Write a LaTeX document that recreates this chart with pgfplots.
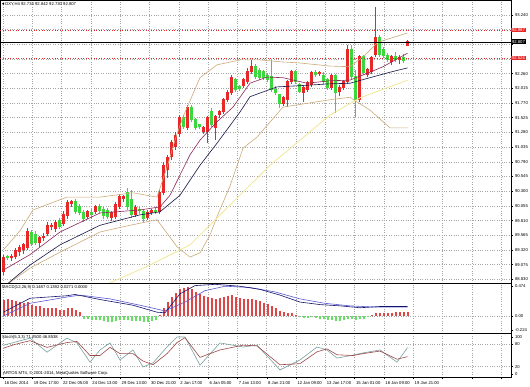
\documentclass[border=0pt]{standalone}
\usepackage{fontspec}
\setmainfont{Liberation Sans}
\newfontfamily\symfont{DejaVu Sans}
\usepackage{pgfplots}
\usepackage{pgfplotstable}
\pgfplotsset{compat=1.18}
\definecolor{upc}{RGB}{232,40,40}
\definecolor{dnc}{RGB}{60,215,60}
\definecolor{bb}{RGB}{205,170,120}
\definecolor{maf}{RGB}{140,40,90}
\definecolor{mas}{RGB}{20,20,70}
\definecolor{may}{RGB}{240,232,150}
\definecolor{gridc}{RGB}{165,165,165}
\definecolor{macdn}{RGB}{20,20,110}
\definecolor{macds}{RGB}{90,90,210}
\definecolor{stk}{RGB}{120,160,160}
\definecolor{std}{RGB}{160,70,70}
\definecolor{histred}{RGB}{225,70,70}
\definecolor{histgreen}{RGB}{100,225,100}
\newcommand{\tinyf}{\fontsize{4.2}{5}\selectfont}

\pgfplotstableread{
x o h l c
3.5 89.05 89.32 89.00 89.28
11.5 89.28 89.34 89.23 89.29
15.5 89.29 89.44 89.26 89.39
19.5 89.37 89.49 89.31 89.44
23.5 89.41 89.52 89.34 89.49
27.5 89.44 89.77 89.41 89.70
39.5 89.52 89.63 89.46 89.60
43.5 89.60 89.68 89.55 89.63
47.5 89.67 89.86 89.63 89.80
51.5 89.78 89.85 89.73 89.81
55.5 89.75 89.90 89.70 89.85
63.5 89.83 90.04 89.80 89.99
67.5 89.96 90.22 89.91 90.17
71.5 90.16 90.22 90.11 90.19
87.5 89.95 90.06 89.91 90.03
95.5 90.03 90.14 89.99 90.11
111.5 89.93 90.04 89.88 90.01
115.5 89.94 90.19 89.91 90.14
119.5 90.11 90.32 90.08 90.27
123.5 90.24 90.30 90.19 90.27
135.5 89.98 90.14 89.94 90.09
147.5 89.93 90.06 89.90 90.01
151.5 90.01 90.08 89.98 90.04
159.5 90.03 90.39 89.99 90.34
163.5 90.34 90.84 90.30 90.78
167.5 90.71 90.96 90.58 90.92
171.5 90.92 91.20 90.88 91.15
175.5 91.09 91.33 91.04 91.28
179.5 91.30 91.61 91.25 91.56
187.5 91.40 91.77 91.37 91.73
203.5 91.33 91.43 91.30 91.40
207.5 91.33 91.59 91.15 91.56
215.5 91.40 91.61 91.20 91.58
219.5 91.61 91.69 91.56 91.66
223.5 91.66 91.89 91.63 91.86
227.5 91.86 92.02 91.82 91.97
231.5 91.97 92.26 91.94 92.22
243.5 92.08 92.22 92.05 92.18
247.5 92.15 92.38 92.12 92.31
251.5 92.31 92.51 92.28 92.40
283.5 91.79 91.92 91.76 91.89
287.5 91.86 92.18 91.74 92.15
291.5 92.15 92.35 92.12 92.31
303.5 91.97 92.08 91.82 92.05
307.5 92.02 92.17 91.99 92.13
311.5 92.10 92.33 92.07 92.30
319.5 92.28 92.33 92.25 92.30
331.5 92.05 92.28 92.02 92.25
339.5 91.99 92.10 91.92 92.05
343.5 92.05 92.18 92.02 92.15
347.5 92.15 92.75 92.12 92.67
359.5 91.86 92.59 91.82 92.56
367.5 92.26 92.38 92.23 92.35
371.5 92.31 92.57 92.28 92.54
375.5 92.59 93.38 92.56 92.87
391.5 92.48 92.59 92.43 92.56
399.5 92.51 92.59 92.44 92.54
407.5 92.734 92.842 92.730 92.807
}\uptab

\pgfplotstableread{
x o h l c
7.5 89.29 89.32 89.24 89.28
31.5 89.68 89.73 89.47 89.50
35.5 89.65 89.72 89.49 89.52
59.5 89.88 89.93 89.75 89.78
75.5 90.19 90.24 89.99 90.03
79.5 90.11 90.16 89.98 90.01
83.5 90.01 90.06 89.86 89.91
91.5 90.01 90.08 89.91 89.98
99.5 90.11 90.16 90.01 90.04
103.5 90.06 90.11 89.91 89.96
107.5 90.04 90.09 89.91 89.94
127.5 90.34 90.42 90.06 90.11
131.5 90.22 90.39 89.93 89.98
139.5 90.06 90.11 89.99 90.04
143.5 90.03 90.08 89.86 89.91
155.5 90.04 90.09 89.99 90.03
183.5 91.56 91.61 91.38 91.41
191.5 91.73 91.77 91.50 91.53
195.5 91.53 91.56 91.37 91.40
199.5 91.45 91.46 91.38 91.41
211.5 91.66 91.73 91.42 91.45
235.5 92.18 92.22 91.99 92.02
239.5 92.07 92.10 92.00 92.04
255.5 92.40 92.44 92.20 92.23
259.5 92.33 92.38 92.18 92.22
263.5 92.31 92.35 92.18 92.22
267.5 92.26 92.30 92.15 92.18
271.5 92.23 92.51 91.99 92.02
275.5 92.02 92.08 91.94 91.97
279.5 91.94 91.95 91.73 91.79
295.5 92.31 92.35 92.12 92.15
299.5 92.10 92.13 91.97 91.99
315.5 92.30 92.35 92.23 92.26
323.5 92.26 92.31 92.12 92.15
327.5 92.18 92.22 92.02 92.05
335.5 92.25 92.28 91.64 91.97
351.5 92.67 92.75 92.20 92.23
355.5 92.23 92.35 91.58 91.86
363.5 92.56 92.59 92.26 92.30
379.5 92.87 92.92 92.56 92.59
383.5 92.67 92.72 92.54 92.58
387.5 92.58 92.62 92.48 92.51
395.5 92.56 92.64 92.48 92.51
403.5 92.54 92.61 92.46 92.49
}\dntab

\pgfplotstableread{
x v
3.5 0.26
7.5 0.27
11.5 0.25
15.5 0.24
19.5 0.22
23.5 0.20
27.5 0.22
31.5 0.18
35.5 0.16
39.5 0.15
43.5 0.13
47.5 0.13
51.5 0.12
55.5 0.12
59.5 0.10
63.5 0.10
67.5 0.12
71.5 0.12
75.5 0.09
79.5 0.07
159.5 0.02
163.5 0.12
167.5 0.22
171.5 0.30
175.5 0.36
179.5 0.42
183.5 0.44
187.5 0.45
191.5 0.42
195.5 0.38
199.5 0.34
203.5 0.32
207.5 0.30
211.5 0.28
215.5 0.27
219.5 0.28
223.5 0.30
227.5 0.32
231.5 0.33
235.5 0.30
239.5 0.28
243.5 0.27
247.5 0.27
251.5 0.27
255.5 0.25
259.5 0.23
263.5 0.21
267.5 0.19
271.5 0.16
275.5 0.12
279.5 0.08
283.5 0.06
287.5 0.05
291.5 0.04
295.5 0.02
371.5 0.01
375.5 0.04
379.5 0.05
383.5 0.05
387.5 0.05
391.5 0.05
395.5 0.06
399.5 0.06
403.5 0.06
407.5 0.07
}\histpos

\pgfplotstableread{
x v
83.5 -0.04
87.5 -0.05
91.5 -0.06
95.5 -0.06
99.5 -0.07
103.5 -0.08
107.5 -0.09
111.5 -0.09
115.5 -0.08
119.5 -0.07
123.5 -0.06
127.5 -0.07
131.5 -0.08
135.5 -0.08
139.5 -0.08
143.5 -0.09
147.5 -0.09
151.5 -0.08
155.5 -0.07
299.5 -0.02
303.5 -0.03
307.5 -0.03
311.5 -0.02
315.5 -0.03
319.5 -0.04
323.5 -0.05
327.5 -0.06
331.5 -0.06
335.5 -0.08
339.5 -0.08
343.5 -0.07
347.5 -0.04
351.5 -0.05
355.5 -0.07
359.5 -0.05
363.5 -0.04
367.5 -0.02
}\histneg

\pgfplotsset{
  chart/.style={
    scale only axis, width=511pt, xmin=0, xmax=511,
    anchor=north west,
    axis background/.style={fill=white},
    axis line style={black, line width=0.6pt},
    xtick={3,32.3,61.6,90.9,120.2,149.5,178.8,208.1,237.4,266.7,296,325.3,354.6,383.9,413.2,442.5,471.8,501.1},
    xticklabels={},
    xmajorgrids, ymajorgrids,
    major grid style={gridc, dotted, line width=0.45pt},
    tick style={black, line width=0.4pt},
    major tick length=2pt,
    tick align=outside,
    xtick pos=bottom,
    ytick pos=right, yticklabel pos=right,
    tick label style={font=\tinyf},
    yticklabel style={xshift=-1.5pt},
    clip mode=individual,
  }
}

\begin{document}
\begin{tikzpicture}
\path[use as bounding box] (0pt,0pt) rectangle (530pt,-386pt);

% ---------------- main price panel ----------------
\begin{axis}[chart, at={(0pt,0pt)}, height=283pt,
  ymin=88.867, ymax=93.489,
  xtick style={draw=none},
  ytick={93.247,93.007,92.767,92.527,92.287,92.047,91.807,91.567,91.327,91.086,90.846,90.606,90.366,90.126,89.886,89.646,89.406,89.166,88.926},
  yticklabels={93.240,,,,92.260,92.015,91.770,91.525,91.280,91.035,90.790,90.545,90.300,90.055,89.810,89.565,89.320,89.075,88.830}]

% candles: wicks and bodies
\addplot[draw=none, mark=none, forget plot, error bars/.cd, y dir=plus, y explicit, error mark=none,
  error bar style={draw=upc, line width=1.1pt}]
  table[x=x, y=l, y error plus expr=\thisrow{h}-\thisrow{l}] {\uptab};
\addplot[draw=none, mark=none, forget plot, error bars/.cd, y dir=plus, y explicit, error mark=none,
  error bar style={draw=upc, line width=2.8pt}]
  table[x=x, y=o, y error plus expr=\thisrow{c}-\thisrow{o}+0.012] {\uptab};
\addplot[draw=none, mark=none, forget plot, error bars/.cd, y dir=plus, y explicit, error mark=none,
  error bar style={draw=dnc, line width=1.1pt}]
  table[x=x, y=l, y error plus expr=\thisrow{h}-\thisrow{l}] {\dntab};
\addplot[draw=none, mark=none, forget plot, error bars/.cd, y dir=plus, y explicit, error mark=none,
  error bar style={draw=dnc, line width=2.8pt}]
  table[x=x, y=c, y error plus expr=\thisrow{o}-\thisrow{c}+0.012] {\dntab};

% Bollinger bands
\addplot[bb, line width=0.6pt] coordinates {(3.5,89.41)(20,89.72)(33,90.06)(67,90.27)(100,90.27)(133,90.34)(157,90.27)(167,90.76)(175,91.20)(183,91.58)(200,92.22)(217,92.43)(240,92.51)(260,92.51)(280,92.48)(300,92.46)(330,92.41)(350,92.40)(365,92.59)(378,92.80)(407.5,92.95)};
\addplot[bb, line width=0.6pt] coordinates {(3.5,88.80)(30,89.11)(60,89.37)(100,89.70)(130,89.81)(157,89.90)(177,89.46)(190,89.29)(200,89.36)(210,89.65)(217,89.95)(230,90.45)(243,91.07)(257,91.25)(283,91.74)(330,91.86)(350,91.90)(370,91.69)(390,91.40)(407.5,91.40)};
% slow MA
\addplot[may, line width=0.8pt] coordinates {(90,88.70)(110,88.87)(150,89.16)(190,89.49)(230,90.14)(270,90.79)(300,91.20)(330,91.61)(360,91.89)(407.5,92.18)};
% medium MA
\addplot[mas, line width=0.6pt] coordinates {(3.5,88.80)(30,89.16)(60,89.49)(100,89.81)(140,89.98)(160,90.03)(180,90.30)(200,90.79)(217,91.15)(240,91.66)(250,91.91)(277,92.07)(300,92.09)(330,92.12)(350,92.13)(370,92.22)(390,92.31)(407.5,92.38)};
% fast MA
\addplot[maf, line width=0.6pt] coordinates {(3.5,89.08)(30,89.33)(60,89.70)(100,90.01)(140,90.06)(160,90.11)(170,90.30)(180,90.63)(190,90.96)(200,91.20)(217,91.50)(233,91.74)(250,92.13)(267,92.23)(283,92.22)(307,92.13)(330,92.17)(350,92.18)(370,92.31)(383,92.40)(407.5,92.62)};

% price level lines
\addplot[upc, dotted, line width=0.6pt] coordinates {(0,92.999)(511,92.999)};
\addplot[upc, dotted, line width=0.6pt] coordinates {(0,92.542)(511,92.542)};
\addplot[black, line width=0.5pt] coordinates {(0,92.807)(511,92.807)};

\node[fill=upc, text=white, font=\tinyf, inner sep=0.8pt, anchor=west] at (axis cs:511,92.999) {92.987};
\node[fill=black, text=white, font=\tinyf, inner sep=0.8pt, anchor=west] at (axis cs:511,92.807) {92.807};
\node[fill=upc, text=white, font=\tinyf, inner sep=0.8pt, anchor=west] at (axis cs:511,92.542) {92.526};
\node[anchor=north west, font=\tinyf, inner sep=0pt, xshift=2pt, yshift=-2.5pt] at (rel axis cs:0,1)
  {{\symfont\fontsize{3.2}{4}\selectfont ▼}\,DXY,H4 92.734 92.842 92.730 92.807};
\end{axis}

% ---------------- MACD panel ----------------
\begin{axis}[chart, at={(0pt,-283pt)}, height=50pt,
  ymin=-0.269, ymax=0.521,
  xtick style={draw=none},
  ytick={0}, yticklabels={0.00},
  extra y ticks={-0.224,0.474}, extra y tick labels={-0.224,0.474},
  extra y tick style={grid=none}]
\addplot[draw=none, mark=none, forget plot, error bars/.cd, y dir=minus, y explicit, error mark=none,
  error bar style={draw=histred, line width=2pt}]
  table[x=x, y=v, y error minus expr=\thisrow{v}] {\histpos};
\addplot[draw=none, mark=none, forget plot, error bars/.cd, y dir=plus, y explicit, error mark=none,
  error bar style={draw=histgreen, line width=2pt}]
  table[x=x, y=v, y error plus expr=-\thisrow{v}] {\histneg};
\addplot[macds, line width=0.6pt] coordinates {(3.5,0.0)(30,0.2)(67,0.3)(80,0.33)(110,0.27)(140,0.17)(165,0.08)(185,0.22)(205,0.40)(225,0.47)(250,0.45)(275,0.38)(300,0.27)(325,0.2)(350,0.16)(375,0.14)(407.5,0.139)};
\addplot[macdn, line width=0.6pt] coordinates {(3.5,0.06)(30,0.28)(67,0.32)(75,0.34)(100,0.26)(133,0.17)(157,0.06)(165,0.05)(180,0.35)(195,0.48)(215,0.50)(240,0.47)(260,0.42)(280,0.33)(300,0.22)(320,0.18)(340,0.16)(360,0.13)(380,0.15)(407.5,0.149)};
\node[anchor=north west, font=\tinyf, inner sep=0pt, xshift=2pt, yshift=-2.5pt] at (rel axis cs:0,1)
  {MACD(12,26,9) 0.1487 0.1392 0.0271 0.0000};
\end{axis}

% ---------------- Stochastic panel ----------------
\begin{axis}[chart, at={(0pt,-333pt)}, height=44pt,
  ymin=-8.1, ymax=110.8,
  ytick={20,80}, yticklabels={20,80},
  extra y ticks={0,100}, extra y tick labels={0,100},
  extra y tick style={grid=none},
  xticklabels={16 Dec 2014,19 Dec 17:00,22 Dec 05:00,24 Dec 13:00,29 Dec 13:00,30 Dec 21:00,2 Jan 17:00,6 Jan 05:00,7 Jan 13:00,8 Jan 21:00,12 Jan 09:00,13 Jan 17:00,15 Jan 01:00,16 Jan 09:00,19 Jan 21:00,,,},
  xticklabel style={anchor=north west, xshift=-2pt, yshift=0.5pt}]
\addplot[stk, line width=0.6pt] coordinates {(3.5,78)(15,86)(30,97)(47,59)(67,97)(77,84)(90,32)(100,65)(110,84)(120,38)(133,65)(143,19)(153,30)(167,73)(177,100)(185,100)(200,24)(220,84)(243,73)(257,78)(280,11)(300,38)(317,73)(327,65)(337,43)(353,51)(363,57)(380,65)(397,32)(407.5,71.25)};
\addplot[std, line width=0.6pt] coordinates {(3.5,70)(15,80)(30,90)(47,72)(67,85)(77,88)(90,50)(100,50)(110,72)(120,55)(133,55)(143,35)(153,25)(167,55)(177,85)(185,98)(200,45)(220,65)(243,78)(257,76)(280,25)(300,28)(317,60)(327,68)(337,52)(353,50)(363,55)(380,62)(397,40)(407.5,46.85)};
\node[anchor=north west, font=\tinyf, inner sep=0pt, xshift=2pt, yshift=-2.5pt] at (rel axis cs:0,1)
  {Stoch(5,3,3) 71.2500 46.8538};
\node[anchor=south west, font=\tinyf, inner sep=0pt, xshift=3pt, yshift=1.5pt] at (rel axis cs:0,0)
  {ARTOS MT4, © 2001-2014, MetaQuotes Software Corp.};
\end{axis}
\end{tikzpicture}
\end{document}
